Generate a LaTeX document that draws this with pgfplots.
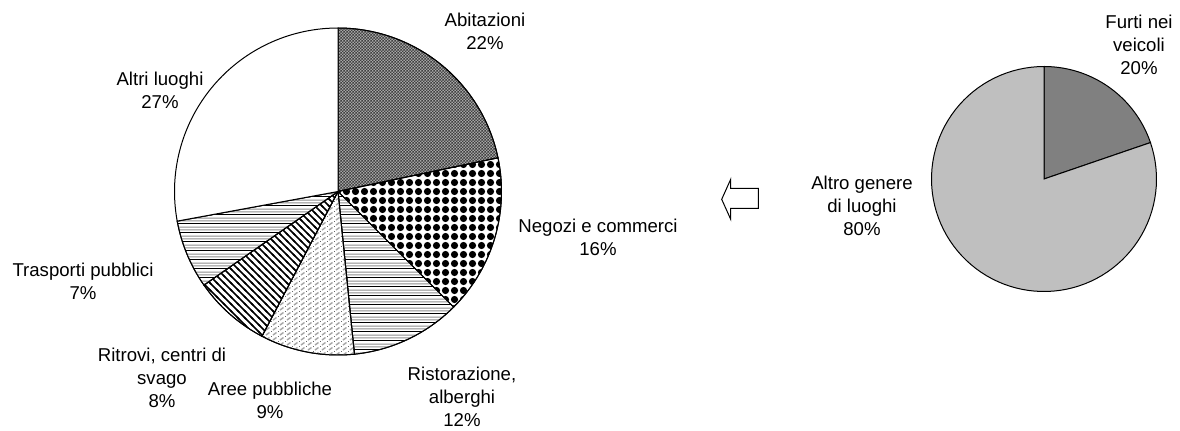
\documentclass[border=0pt]{standalone}
\usepackage{fontspec}
\setmainfont{Liberation Sans}
\usepackage{pgfplots}
\pgfplotsset{compat=1.18}
\usetikzlibrary{patterns}

% fine checker (Abitazioni)
\pgfdeclarepatternformonly{finecheck}{\pgfpointorigin}{\pgfqpoint{1.7pt}{1.7pt}}{\pgfqpoint{1.7pt}{1.7pt}}{%
  \pgfpathrectangle{\pgfpointorigin}{\pgfqpoint{0.85pt}{0.85pt}}%
  \pgfpathrectangle{\pgfqpoint{0.85pt}{0.85pt}}{\pgfqpoint{0.85pt}{0.85pt}}%
  \pgfusepath{fill}}
% big dots (Negozi)
\pgfdeclarepatternformonly{bigdots}{\pgfqpoint{-0.5pt}{-0.5pt}}{\pgfqpoint{5pt}{5pt}}{\pgfqpoint{4.5pt}{4.5pt}}{%
  \pgfpathcircle{\pgfqpoint{2.25pt}{2.25pt}}{1.8pt}\pgfusepath{fill}}
% horizontal stripes (Ristorazione, Trasporti)
\pgfdeclarepatterninherentlycolored{hstripes}{\pgfpointorigin}{\pgfqpoint{4.5pt}{4.5pt}}{\pgfqpoint{4.5pt}{4.5pt}}{%
  \pgfsetfillcolor{black}%
  \pgfpathrectangle{\pgfpointorigin}{\pgfqpoint{4.5pt}{0.55pt}}\pgfusepath{fill}%
  \pgfsetfillcolor{black!45}%
  \pgfpathrectangle{\pgfqpoint{0pt}{1.5pt}}{\pgfqpoint{4.5pt}{0.5pt}}\pgfusepath{fill}%
  \pgfpathrectangle{\pgfqpoint{0pt}{3pt}}{\pgfqpoint{4.5pt}{0.5pt}}\pgfusepath{fill}}
% light weave (Aree pubbliche)
\pgfdeclarepatterninherentlycolored{weave}{\pgfqpoint{-0.5pt}{-0.5pt}}{\pgfqpoint{4pt}{3pt}}{\pgfqpoint{3.5pt}{2.5pt}}{%
  \pgfsetlinewidth{0.7pt}\pgfsetstrokecolor{black!35}%
  \pgfpathmoveto{\pgfqpoint{0pt}{0pt}}\pgfpathlineto{\pgfqpoint{1.75pt}{1.25pt}}\pgfusepath{stroke}%
  \pgfsetfillcolor{black!60}%
  \pgfpathrectangle{\pgfqpoint{2.3pt}{1.6pt}}{\pgfqpoint{0.5pt}{0.5pt}}\pgfusepath{fill}}
% diagonal stripes (Ritrovi)
\pgfdeclarepatternformonly{nwthick}{\pgfqpoint{-1pt}{-1pt}}{\pgfqpoint{4.5pt}{4.5pt}}{\pgfqpoint{3.5pt}{3.5pt}}{%
  \pgfsetlinewidth{0.85pt}%
  \pgfpathmoveto{\pgfqpoint{-0.5pt}{4pt}}\pgfpathlineto{\pgfqpoint{4pt}{-0.5pt}}\pgfusepath{stroke}}

% slice shares (percent)
\def\vA{21.7}  % Abitazioni
\def\vB{15.8}  % Negozi e commerci
\def\vC{10.9}  % Ristorazione, alberghi
\def\vD{9.3}   % Aree pubbliche
\def\vE{7.6}   % Ritrovi, centri di svago
\def\vF{6.8}   % Trasporti pubblici
\def\vG{27.9}  % Altri luoghi
\def\wA{19.75} % Furti nei veicoli
\def\wB{80.25} % Altro genere di luoghi

\begin{document}
\begin{tikzpicture}
\pgfmathsetmacro\aA{90}
\pgfmathsetmacro\aB{\aA-3.6*\vA}
\pgfmathsetmacro\aC{\aB-3.6*\vB}
\pgfmathsetmacro\aD{\aC-3.6*\vC}
\pgfmathsetmacro\aE{\aD-3.6*\vD}
\pgfmathsetmacro\aF{\aE-3.6*\vE}
\pgfmathsetmacro\aG{\aF-3.6*\vF}
\pgfmathsetmacro\aH{\aG-3.6*\vG}
\pgfmathsetmacro\bA{90}
\pgfmathsetmacro\bB{\bA-3.6*\wA}
\pgfmathsetmacro\bC{\bB-3.6*\wB}
\def\cx{338}\def\cy{238.5}\def\R{163.5}
\def\dx{1044}\def\dy{251}\def\S{112.5}
\begin{axis}[
  x=0.5pt, y=0.5pt, xmin=0, xmax=1180, ymin=0, ymax=430,
  hide axis, clip=false, scale only axis,
  every axis plot/.append style={no markers, draw=black, line width=0.5pt, samples=90, variable=\t},
]
\path (axis cs:0,0) rectangle (axis cs:1180,430);
% left pie
\addplot[preaction={fill=black!35}, pattern=finecheck, pattern color=black!75, domain=\aB:\aA]
  ({\cx+\R*cos(\t)},{\cy+\R*sin(\t)}) -- (axis cs:\cx,\cy) -- cycle;
\addplot[preaction={fill=white}, pattern=bigdots, pattern color=black, domain=\aC:\aB]
  ({\cx+\R*cos(\t)},{\cy+\R*sin(\t)}) -- (axis cs:\cx,\cy) -- cycle;
\addplot[preaction={fill=white}, pattern=hstripes, domain=\aD:\aC]
  ({\cx+\R*cos(\t)},{\cy+\R*sin(\t)}) -- (axis cs:\cx,\cy) -- cycle;
\addplot[preaction={fill=white}, pattern=weave, domain=\aE:\aD]
  ({\cx+\R*cos(\t)},{\cy+\R*sin(\t)}) -- (axis cs:\cx,\cy) -- cycle;
\addplot[preaction={fill=white}, pattern=nwthick, pattern color=black, domain=\aF:\aE]
  ({\cx+\R*cos(\t)},{\cy+\R*sin(\t)}) -- (axis cs:\cx,\cy) -- cycle;
\addplot[preaction={fill=white}, pattern=hstripes, domain=\aG:\aF]
  ({\cx+\R*cos(\t)},{\cy+\R*sin(\t)}) -- (axis cs:\cx,\cy) -- cycle;
\addplot[fill=white, domain=\aH:\aG]
  ({\cx+\R*cos(\t)},{\cy+\R*sin(\t)}) -- (axis cs:\cx,\cy) -- cycle;
% right pie
\addplot[fill=black!50, domain=\bB:\bA]
  ({\dx+\S*cos(\t)},{\dy+\S*sin(\t)}) -- (axis cs:\dx,\dy) -- cycle;
\addplot[fill=black!25, domain=\bC:\bB]
  ({\dx+\S*cos(\t)},{\dy+\S*sin(\t)}) -- (axis cs:\dx,\dy) -- cycle;
% arrow
\draw[fill=white, line width=0.5pt] (axis cs:721.7,230.7) -- (axis cs:730.7,250.7) -- (axis cs:730.7,241.7)
  -- (axis cs:758.3,241.7) -- (axis cs:758.3,221.7) -- (axis cs:730.7,221.7) -- (axis cs:730.7,210.7) -- cycle;
% labels
\begin{scope}[every node/.style={font=\fontsize{9.3}{11.5}\selectfont, align=center, inner sep=0pt}]
\node at (axis cs:485,398.5) {Abitazioni\\22\%};
\node at (axis cs:598,192.5) {Negozi e commerci\\16\%};
\node at (axis cs:462,33) {Ristorazione,\\alberghi\\12\%};
\node at (axis cs:270,30) {Aree pubbliche\\9\%};
\node at (axis cs:162,52) {Ritrovi, centri di\\svago\\8\%};
\node at (axis cs:83,148.5) {Trasporti pubblici\\7\%};
\node at (axis cs:160,339.5) {Altri luoghi\\27\%};
\node at (axis cs:1139,385) {Furti nei\\veicoli\\20\%};
\node at (axis cs:862,224) {Altro genere\\di luoghi\\80\%};
\end{scope}
\end{axis}
\end{tikzpicture}
\end{document}
